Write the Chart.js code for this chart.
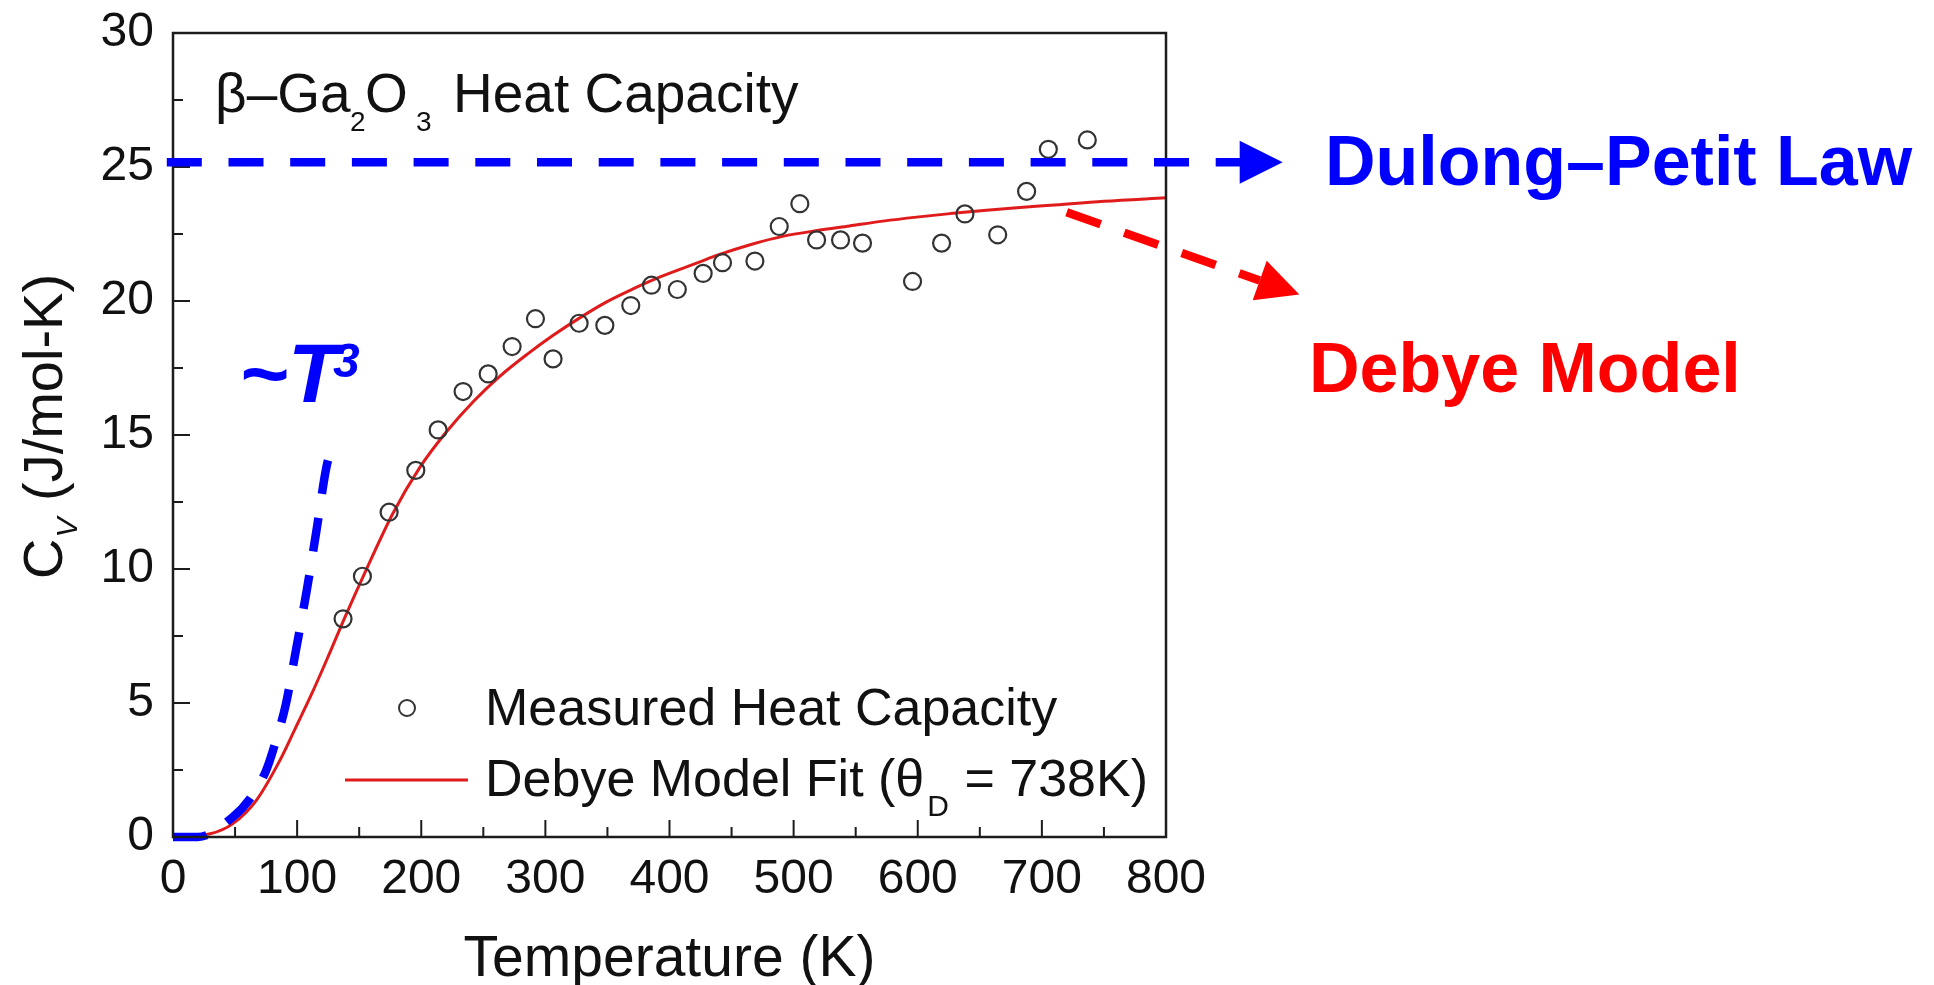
<!DOCTYPE html>
<html>
<head>
<meta charset="utf-8">
<title>β-Ga2O3 Heat Capacity</title>
<script src="https://cdn.jsdelivr.net/npm/chart.js@4.4.1/dist/chart.umd.min.js"></script>
<style>
  html, body { margin: 0; padding: 0; background: #fff; }
  #wrap { width: 1934px; height: 985px; position: relative; }
</style>
</head>
<body>
<div id="wrap"><canvas id="cvChart"></canvas></div>
<script>
// measured points
const tempMeasured = [137.0, 152.6, 174.1, 195.6, 213.6, 233.7, 253.9, 273.2, 292.0, 306.2,
                      327.2, 347.9, 368.8, 385.5, 406.3, 427.1, 442.7, 468.8, 488.4, 505.0,
                      518.5, 537.8, 555.5, 595.8, 619.2, 638.0, 664.4, 687.7, 705.2, 736.6];
const cvMeasured   = [8.14, 9.73, 12.12, 13.68, 15.19, 16.62, 17.28, 18.30, 19.34, 17.84,
                      19.17, 19.09, 19.83, 20.59, 20.43, 21.03, 21.43, 21.49, 22.78, 23.63,
                      22.28, 22.28, 22.16, 20.73, 22.16, 23.25, 22.47, 24.09, 25.66, 26.01];

// Debye model fit curve (traced)
const tempFit = [0, 30, 48, 67, 86, 99, 113, 126, 139, 155, 177, 199, 220, 242, 263, 285, 306,
                 328, 349, 371, 392, 424, 438, 465, 492, 518, 545, 572, 599, 626, 653, 680, 707, 750, 800];
const cvFit   = [0, 0.12, 0.49, 1.36, 2.85, 4.1, 5.47, 6.84, 8.25, 9.9, 12.06, 13.8, 15.1, 16.25,
                 17.18, 18.0, 18.71, 19.38, 19.96, 20.46, 20.89, 21.45, 21.7, 22.1, 22.42, 22.62,
                 22.8, 22.98, 23.13, 23.26, 23.38, 23.48, 23.57, 23.72, 23.85];

// ~T^3 guide (traced)
const tempT3 = [0, 20, 48, 62, 75, 83, 91, 99, 107.5, 115.6, 123.6, 130.3];
const cvT3   = [0, 0, 0.74, 1.43, 2.48, 3.6, 4.97, 6.96, 9.13, 11.44, 13.8, 14.86];

// Dulong-Petit level and arrow anchors (data units)
const dulongPetit = 25.18;
const dpLine  = [-5, 860, 894];           // start, head base, tip (K)
const debyeArrow = [[720, 23.31], [907.4, 20.24]];

const xTicks = [0, 100, 200, 300, 400, 500, 600, 700, 800];
const yTicks = [0, 5, 10, 15, 20, 25, 30];

const FONT = "'Liberation Sans', Arial, sans-serif";
const toXY = (xs, ys) => xs.map((v, i) => ({ x: v, y: ys[i] }));

function arrowHead(ctx, x0, y0, x1, y1, len, half, color) {
  const ang = Math.atan2(y1 - y0, x1 - x0);
  const bx = x1 - len * Math.cos(ang), by = y1 - len * Math.sin(ang);
  ctx.fillStyle = color;
  ctx.beginPath();
  ctx.moveTo(x1, y1);
  ctx.lineTo(bx + half * Math.sin(ang), by - half * Math.cos(ang));
  ctx.lineTo(bx - half * Math.sin(ang), by + half * Math.cos(ang));
  ctx.closePath();
  ctx.fill();
  return [bx, by];
}

const overlay = {
  id: 'overlay',
  afterDatasetsDraw(chart) {
    const { ctx, chartArea: a, scales: { x, y } } = chart;
    ctx.save();

    // frame + inward ticks
    ctx.strokeStyle = '#1c1c1c';
    ctx.lineWidth = 2.5;
    ctx.strokeRect(a.left, a.top, a.right - a.left, a.bottom - a.top);
    ctx.lineWidth = 2;
    ctx.beginPath();
    xTicks.forEach((t, i) => {
      const px = x.getPixelForValue(t);
      ctx.moveTo(px, a.bottom); ctx.lineTo(px, a.bottom - 17);
      if (i < xTicks.length - 1) {
        const pm = x.getPixelForValue((t + xTicks[i + 1]) / 2);
        ctx.moveTo(pm, a.bottom); ctx.lineTo(pm, a.bottom - 10);
      }
    });
    yTicks.forEach((v, i) => {
      const py = y.getPixelForValue(v);
      ctx.moveTo(a.left, py); ctx.lineTo(a.left + 17, py);
      if (i < yTicks.length - 1) {
        const pm = y.getPixelForValue((v + yTicks[i + 1]) / 2);
        ctx.moveTo(a.left, pm); ctx.lineTo(a.left + 10, pm);
      }
    });
    ctx.stroke();

    // Dulong-Petit dashed arrow
    const dpY = y.getPixelForValue(dulongPetit);
    ctx.strokeStyle = '#0000ff';
    ctx.lineWidth = 8.5;
    ctx.setLineDash([35, 26.7]);
    ctx.beginPath();
    ctx.moveTo(x.getPixelForValue(dpLine[0]), dpY);
    ctx.lineTo(x.getPixelForValue(dpLine[1]), dpY);
    ctx.stroke();
    ctx.setLineDash([]);
    arrowHead(ctx, x.getPixelForValue(dpLine[1]), dpY, x.getPixelForValue(dpLine[2]), dpY, 43, 21.5, '#0000ff');

    // Debye model dashed arrow
    const rx0 = x.getPixelForValue(debyeArrow[0][0]), ry0 = y.getPixelForValue(debyeArrow[0][1]);
    const rx1 = x.getPixelForValue(debyeArrow[1][0]), ry1 = y.getPixelForValue(debyeArrow[1][1]);
    const [bx, by] = arrowHead(ctx, rx0, ry0, rx1, ry1, 42, 21, '#ff0000');
    ctx.strokeStyle = '#ff0000';
    ctx.lineWidth = 8.5;
    ctx.setLineDash([36, 25]);
    ctx.beginPath();
    ctx.moveTo(rx0, ry0);
    ctx.lineTo(bx, by);
    ctx.stroke();
    ctx.setLineDash([]);

    // texts
    ctx.textAlign = 'left';
    ctx.textBaseline = 'alphabetic';
    ctx.fillStyle = '#111';

    // plot title
    ctx.font = `55px ${FONT}`;
    ctx.fillText('β–Ga', 215, 112);
    ctx.fillText('O', 365, 112);
    ctx.fillText('Heat Capacity', 453, 112);
    ctx.font = `28px ${FONT}`;
    ctx.fillText('2', 350, 131);
    ctx.fillText('3', 416, 131);

    // legend
    ctx.strokeStyle = '#333';
    ctx.lineWidth = 2;
    ctx.beginPath();
    ctx.arc(407, 708, 8, 0, Math.PI * 2);
    ctx.stroke();
    ctx.strokeStyle = '#e01b1b';
    ctx.lineWidth = 3;
    ctx.beginPath();
    ctx.moveTo(345, 780); ctx.lineTo(468, 780);
    ctx.stroke();
    ctx.font = `52px ${FONT}`;
    ctx.fillText('Measured Heat Capacity', 485, 725);
    const lead = 'Debye Model Fit (θ';
    ctx.fillText(lead, 485, 796);
    let w = ctx.measureText(lead).width;
    ctx.font = `30px ${FONT}`;
    ctx.fillText('D', 485 + w + 3, 816);
    const wd = ctx.measureText('D').width;
    ctx.font = `52px ${FONT}`;
    ctx.fillText(' = 738K)', 485 + w + wd + 4, 796);

    // x axis title
    ctx.font = `57px ${FONT}`;
    ctx.textAlign = 'center';
    ctx.fillText('Temperature (K)', (a.left + a.right) / 2, 976);

    // y axis title
    ctx.save();
    ctx.translate(62, 579);
    ctx.rotate(-Math.PI / 2);
    ctx.textAlign = 'left';
    ctx.font = `56px ${FONT}`;
    ctx.fillText('C', 0, 0);
    const wc = ctx.measureText('C').width;
    ctx.font = `italic 30px ${FONT}`;
    ctx.fillText('V', wc + 1, 15);
    const wv = ctx.measureText('V').width;
    ctx.font = `56px ${FONT}`;
    ctx.fillText(' (J/mol-K)', wc + wv + 2, 0);
    ctx.restore();

    // annotations
    ctx.textAlign = 'left';
    ctx.fillStyle = '#0000ff';
    ctx.font = `italic bold 84px ${FONT}`;
    ctx.fillText('~T', 239, 402);
    ctx.font = `italic bold 48px ${FONT}`;
    ctx.fillText('3', 333, 377);
    ctx.font = `bold 70px ${FONT}`;
    ctx.fillText('Dulong–Petit Law', 1325, 185);
    ctx.fillStyle = '#ff0000';
    ctx.fillText('Debye Model', 1309, 392);

    ctx.restore();
  }
};

new Chart(document.getElementById('cvChart'), {
  type: 'scatter',
  data: {
    datasets: [
      {
        label: '~T3',
        type: 'line',
        data: toXY(tempT3, cvT3),
        borderColor: '#0000ff',
        borderWidth: 8.5,
        borderDash: [34, 24],
        pointRadius: 0,
        cubicInterpolationMode: 'monotone',
        fill: false,
        clip: 12,
      },
      {
        label: 'Measured Heat Capacity',
        data: toXY(tempMeasured, cvMeasured),
        showLine: false,
        pointStyle: 'circle',
        pointRadius: 8.5,
        pointBorderWidth: 2.2,
        borderColor: '#333',
        backgroundColor: 'rgba(0,0,0,0)',
        pointBackgroundColor: 'rgba(0,0,0,0)',
      },
      {
        label: 'Debye Model Fit',
        type: 'line',
        data: toXY(tempFit, cvFit),
        borderColor: '#e01b1b',
        borderWidth: 3,
        pointRadius: 0,
        cubicInterpolationMode: 'monotone',
        fill: false,
      },
    ],
  },
  options: {
    responsive: true,
    maintainAspectRatio: false,
    animation: false,
    layout: { padding: { left: 0, top: 33, right: 768, bottom: 0 } },
    plugins: { legend: { display: false }, tooltip: { enabled: false } },
    scales: {
      x: {
        type: 'linear',
        min: 0, max: 800,
        grid: { display: false, drawTicks: false },
        border: { display: false },
        ticks: { stepSize: 100, color: '#111', padding: 14, maxRotation: 0, font: { family: FONT, size: 48 } },
        afterFit: s => { s.height = 148; s.paddingLeft = 0; s.paddingRight = 0; },
      },
      y: {
        min: 0, max: 30,
        grid: { display: false, drawTicks: false },
        border: { display: false },
        ticks: { stepSize: 5, color: '#111', padding: 19, font: { family: FONT, size: 48 } },
        afterFit: s => { s.width = 173; s.paddingTop = 0; s.paddingBottom = 0; },
      },
    },
  },
  plugins: [overlay],
});
</script>
</body>
</html>
